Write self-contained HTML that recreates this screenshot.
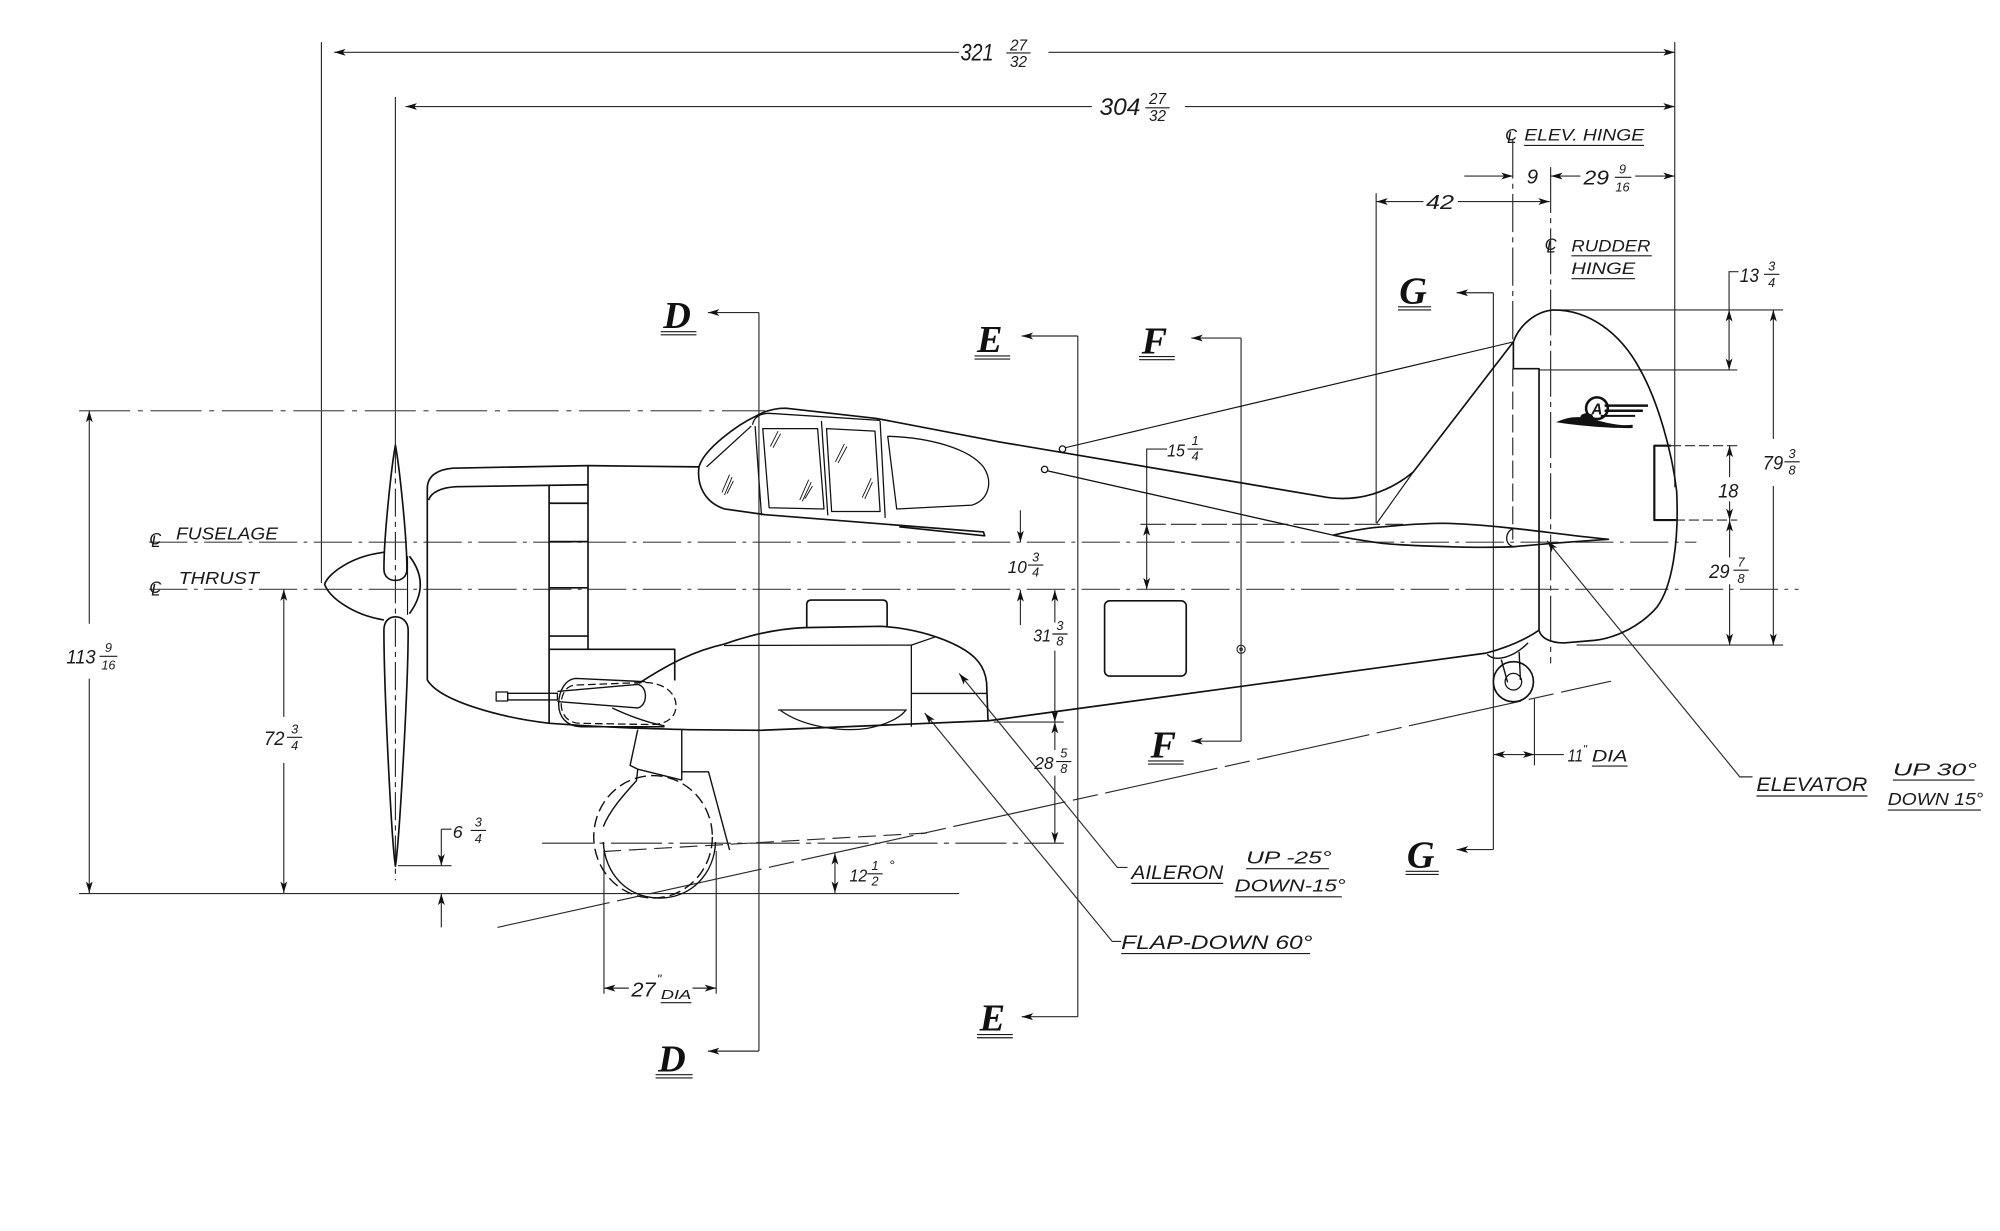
<!DOCTYPE html>
<html><head><meta charset="utf-8"><style>
html,body{margin:0;padding:0;background:#fff;}
svg{display:block;}
.t{font-family:"Liberation Sans",sans-serif;font-style:italic;fill:#1a1a1a;stroke:none;}
.L{font-family:"Liberation Serif",serif;font-weight:bold;font-style:italic;fill:#111;stroke:none;font-size:30px;}
</style></head><body>
<svg width="2000" height="1231" viewBox="0 0 1568 965" preserveAspectRatio="none" xmlns="http://www.w3.org/2000/svg">
<defs>
<marker id="a" viewBox="0 0 10 6" refX="10" refY="3" markerWidth="9" markerHeight="5.4" markerUnits="userSpaceOnUse" orient="auto-start-reverse"><path d="M0,0 L10,3 L0,6 L2.5,3 Z" fill="#111"/></marker>
</defs>
<rect width="1568" height="965" fill="#fff"/>

<!-- dimension / construction lines -->
<g stroke="#2a2a2a" fill="none" stroke-width="0.9">
<line x1="252" y1="33" x2="252" y2="457"/>
<line x1="310" y1="76" x2="310" y2="349"/>
<path d="M310,349 V690" stroke-dasharray="22 4 4 4"/>
<line x1="1313" y1="33" x2="1313" y2="382"/>
<line x1="262" y1="41" x2="752" y2="41" marker-start="url(#a)"/>
<line x1="822" y1="41" x2="1313" y2="41" marker-end="url(#a)"/>
<line x1="318" y1="83.5" x2="856" y2="83.5" marker-start="url(#a)"/>
<line x1="929" y1="83.5" x2="1313" y2="83.5" marker-end="url(#a)"/>

<path d="M1186,110 V268" stroke-dasharray="30 4 4 4"/>
<path d="M1186,289 V423" stroke-dasharray="14 4"/>
<path d="M1215.7,131 V520" stroke-dasharray="36 4 4 4"/>
<line x1="1078.9" y1="151.5" x2="1078.9" y2="410"/>
<line x1="1148" y1="138" x2="1186" y2="138" marker-end="url(#a)"/>
<line x1="1216" y1="138" x2="1239" y2="138" marker-start="url(#a)"/>
<line x1="1282" y1="138" x2="1313" y2="138" marker-end="url(#a)"/>
<line x1="1079" y1="158" x2="1116" y2="158" marker-start="url(#a)"/>
<line x1="1143" y1="158" x2="1215" y2="158" marker-end="url(#a)"/>

<line x1="1222" y1="243" x2="1398" y2="243"/>
<line x1="1207" y1="290" x2="1362" y2="290"/>
<line x1="1310" y1="349.4" x2="1362" y2="349.4" stroke-dasharray="8 3"/>
<line x1="1313" y1="407.7" x2="1362" y2="407.7" stroke-dasharray="8 3"/>
<line x1="1236" y1="505.7" x2="1398" y2="505.7"/>
<path d="M1363,213 H1355.6 V243"/>
<line x1="1355.6" y1="243" x2="1355.6" y2="290" marker-start="url(#a)" marker-end="url(#a)"/>
<line x1="1356" y1="349.4" x2="1356" y2="374" marker-start="url(#a)"/>
<line x1="1356" y1="393" x2="1356" y2="407.7" marker-end="url(#a)"/>
<line x1="1356" y1="407.7" x2="1356" y2="437" marker-start="url(#a)"/>
<line x1="1356" y1="458" x2="1356" y2="505.7" marker-end="url(#a)"/>
<line x1="1390.3" y1="243" x2="1390.3" y2="344" marker-start="url(#a)"/>
<line x1="1390.3" y1="381" x2="1390.3" y2="505.7" marker-end="url(#a)"/>

<path d="M117,425 H1330" stroke-dasharray="30 5 3 5" stroke="#444"/>
<path d="M117,462 H1410" stroke-dasharray="30 5 3 5" stroke="#444"/>
<path d="M894,411 H1100" stroke-dasharray="20 4"/>
<path d="M62,322 H600" stroke-dasharray="40 6 4 6" stroke="#555"/>
<line x1="62" y1="700.5" x2="752" y2="700.5"/>
<path d="M425,661 H834" stroke-dasharray="40 5 4 5"/>
<path d="M390,727 L1263,534" stroke-dasharray="90 6 20 6"/>
<path d="M473,667.5 L726.5,653" stroke-dasharray="14 6"/>

<line x1="70" y1="322" x2="70" y2="489" marker-start="url(#a)"/>
<line x1="70" y1="532" x2="70" y2="700" marker-end="url(#a)"/>
<line x1="222.5" y1="462" x2="222.5" y2="562" marker-start="url(#a)"/>
<line x1="222.5" y1="598" x2="222.5" y2="700" marker-end="url(#a)"/>
<path d="M312,678.6 H354"/>
<path d="M354,650 H346"/>
<line x1="346" y1="650" x2="346" y2="678.6" marker-end="url(#a)"/>
<line x1="346" y1="727" x2="346" y2="700.5" marker-end="url(#a)"/>
<line x1="800" y1="400" x2="800" y2="425" marker-end="url(#a)"/>
<line x1="800" y1="490" x2="800" y2="462.6" marker-end="url(#a)"/>
<line x1="827" y1="462.6" x2="827" y2="488" marker-start="url(#a)"/>
<line x1="827" y1="510" x2="827" y2="566" marker-end="url(#a)"/>
<line x1="827" y1="566" x2="827" y2="588" marker-start="url(#a)"/>
<line x1="827" y1="608" x2="827" y2="661" marker-end="url(#a)"/>
<line x1="779" y1="566" x2="834" y2="566"/>
<path d="M915,352 H899 V411"/>
<line x1="899" y1="411" x2="899" y2="462" marker-start="url(#a)" marker-end="url(#a)"/>
<line x1="654.6" y1="668.8" x2="654.6" y2="700" marker-start="url(#a)" marker-end="url(#a)"/>
<line x1="473.5" y1="667" x2="473.5" y2="779"/>
<line x1="561.5" y1="667" x2="561.5" y2="779"/>
<line x1="473.5" y1="774.6" x2="493" y2="774.6" marker-start="url(#a)"/>
<line x1="543" y1="774.6" x2="561.5" y2="774.6" marker-end="url(#a)"/>
<line x1="1203" y1="548" x2="1203" y2="600"/>
<line x1="1171" y1="591.5" x2="1203" y2="591.5" marker-start="url(#a)" marker-end="url(#a)"/>
<path d="M1203,591.5 H1226"/>

<!-- section lines -->
<path d="M595,245 V824"/>
<line x1="595" y1="245" x2="555" y2="245" marker-end="url(#a)"/>
<line x1="595" y1="824" x2="555" y2="824" marker-end="url(#a)"/>
<path d="M845,263.4 V797"/>
<line x1="845" y1="263.4" x2="801" y2="263.4" marker-end="url(#a)"/>
<line x1="845" y1="797" x2="801" y2="797" marker-end="url(#a)"/>
<path d="M973,265 V581"/>
<line x1="973" y1="265" x2="934" y2="265" marker-end="url(#a)"/>
<line x1="973" y1="581" x2="934" y2="581" marker-end="url(#a)"/>
<circle cx="973" cy="509" r="3.2"/><circle cx="973" cy="509" r="1"/>
<path d="M1170.8,229.5 V666"/>
<line x1="1170.8" y1="229.5" x2="1142" y2="229.5" marker-end="url(#a)"/>
<line x1="1170.8" y1="666" x2="1142" y2="666" marker-end="url(#a)"/>

<!-- leaders -->
<path d="M884,680 H876 L752,528" marker-end="url(#a)"/>
<path d="M879,738 H872 L725,559" marker-end="url(#a)"/>
<path d="M1374,609 H1364 L1213,424" marker-end="url(#a)"/>
</g>

<!-- aircraft outline -->
<g stroke="#111" fill="none" stroke-width="1.3" stroke-linejoin="round">
<path d="M310,349 C307,365 301,420 301,446 C301,452 305,455 310,455 C315,455 319,452 319,446 C319,420 313,365 310,349 Z"/>
<path d="M310,679 C307,660 301,540 301,494 C301,487 305,483.5 310,483.5 C315,483.5 320,487 320,494 C320,540 313,660 310,679 Z"/>
<path d="M301,433 C275,436 257,450 254.5,458 C258,468 276,482 301,486"/>
<path d="M319.5,436 V482" stroke-width="0.9"/>
<path d="M321,436 Q338,458 321,481"/>

<path d="M461,365 L355,367 C343,368 335,373 335,383 L335,533 C345,550 395,563 431,567 C470,570 500,571 540,572 L596,572.5 L775,565 L1165,512 C1180,508 1195,502 1206.6,494"/>
<path d="M336,392 C338,386 346,382 358,381.5 L461,380"/>
<path d="M430.5,381 V567 M461,365 V509 M430.5,394.5 H461 M430.5,424.6 H461 M430.5,460.8 H461 M430.5,498.6 H461 M430.5,509 H529 V533.5"/>
<path d="M461,365 L548,366"/>

<path d="M548,366 C552,352 578,333 593,326 C600,322 608,320 616,320 L687,328 L784,346.5 L1035,389 C1065,395 1090,385 1108,370 L1186.5,268"/>
<path d="M548,366 C546,381 553,394 568,399 L600,403.5 L771,417 L772,420 L705,413"/>
<path d="M554,366 L589,334" stroke-width="1"/>
<path d="M590,333 C591,327 596,324 603,324 L690,329.5" stroke-width="1"/>
<path d="M592,334 L597,404 M644,330 L649,404 M690,330 L694,406" stroke-width="1"/>
<path d="M598,336 L641,336 L646,399 L603,398 Z" stroke-width="1"/>
<path d="M648,336 L686,338 L690,401 L652,401 Z" stroke-width="1"/>
<path d="M696,342 C730,343 760,352 771,366 C779,378 775,392 762,396 L703,399 Z" stroke-width="1"/>
<g stroke-width="0.7">
<path d="M566,386 L572,372 M568,388 L574,374 M570,387 L575,377"/>
<path d="M604,350 L610,338 M606,351 L612,340"/>
<path d="M627,392 L634,376 M629,393 L636,378 M631,391 L637,381"/>
<path d="M655,362 L662,348 M657,363 L664,350"/>
<path d="M676,390 L683,375 M678,391 L684,378"/>
</g>

<circle cx="833" cy="352" r="2.5" stroke-width="1"/>
<circle cx="819" cy="368" r="2.5" stroke-width="1"/>
<path d="M835,351 L1186.5,268" stroke-width="0.9"/>
<path d="M821,369 L1045,419.5" stroke-width="1"/>
<path d="M1108,370 L1079.3,410.3" stroke-width="0.9"/>
<path d="M1045.3,419.5 C1060,416 1075,413.5 1084.5,413 C1105,411 1125,410 1136.8,410.3 C1155,411 1172,412.5 1186.5,414.2 C1205,416 1225,419 1261,422.8 C1235,424.5 1215,426 1186.5,428.6 C1165,429.5 1150,429 1136.8,428.6 C1115,428 1095,427 1084.5,426 C1070,424 1055,421.5 1045.3,419.5 Z"/>
<path d="M1186.5,414.5 C1180,416 1179,427 1186.5,428.5" stroke-width="1"/>
<path d="M1186.5,268 V289 H1206.6 V494"/>
<path d="M1186.5,268 C1191,255 1204,244 1218,243 C1245,243 1270,260 1286,290 C1300,315 1311,355 1314.5,385 C1316.5,425 1311,460 1299,476 C1287,490 1268,500 1250,502 L1226,504 C1215,504 1208,500 1206.6,494"/>
<path d="M1310,349.4 H1297 V407.7 H1314" stroke-width="1.7"/>

<path d="M1166,513 C1172,519 1186,516 1198,504" stroke-width="1.1"/>
<path d="M1177,517 L1182,535 M1191,511 L1192,533" stroke-width="1.1"/>
<circle cx="1186.5" cy="534.4" r="15.7"/>
<circle cx="1186.5" cy="534.4" r="6.5" stroke-width="1"/>

<path d="M632.5,491.5 V474 Q632.5,470.4 636,470.4 H692 Q695.5,470.4 695.5,474 V491.5"/>
<path d="M501,535.6 C525,520 545,510 567.6,505 C590,497 610,493 630,492 L690,491 C712,492 735,498 752,507 C765,514 772,522 773.5,535 L774.6,565"/>
<path d="M567.6,506 L714.5,505.7 L734,499 M714.5,505.7 V569.7 M714.5,543.6 H774" stroke-width="1"/>
<path d="M610,556.6 L711,556.6" stroke-width="1"/>
<path d="M612,557 C630,570 660,574 680,571 C695,568 705,563 710,557" stroke-width="1"/>

<path d="M521,569.7 L455,569.7 C444,569 438,562 438,552 C438,542 443,532 452,531.8 L506,534.4" stroke-width="1.1"/>
<path d="M452,537 L505,535 C520,535 530,543 530,553 C530,563 522,568 510,568 L455,567 C445,567 440,560 440,552 C440,544 444,537 452,537 Z" stroke-dasharray="6 3" stroke-width="1"/>
<path d="M437,542 L500,536.5 C508,538 508,553 500,555 L437,550" stroke-width="1.1"/>
<path d="M480,555 C495,562 510,567 521,569" stroke-width="1.1"/>
<rect x="398" y="543.5" width="39" height="5.2" stroke-width="1"/>
<rect x="389" y="542.5" width="9" height="7" stroke-width="1"/>

<path d="M500,572 L494,600 L500,603 M534.5,572 V611.5 M500,603 L534.5,611.5 M534.5,605 L555.5,605 L572,666.4 M500,603 L499,612 C490,622 478,635 473,648" stroke-width="1.1"/>
<ellipse cx="512" cy="656" rx="46.5" ry="48" stroke-dasharray="9 4" stroke-width="1.1"/>
<path d="M473,660 C474,685 492,704 517,704 C542,704 560,685 561,660" stroke-width="1.1"/>

<rect x="866" y="471" width="64" height="59" rx="4"/>
</g>

<!-- logo -->
<g stroke="#111" fill="none">
<circle cx="1252" cy="320" r="8.5" stroke-width="2"/>
<path d="M1258,318 H1292 M1258,322 H1288" stroke-width="2"/>
<path d="M1255,326 H1282" stroke-width="1.5"/>
</g>
<text class="t" x="1252" y="325" font-size="12" text-anchor="middle" font-weight="bold" font-style="normal">A</text>
<path d="M1220,331 C1230,326 1240,326 1250,329 C1262,332 1270,334 1280,333 L1280,335.5 C1265,336 1240,334 1220,331 Z" fill="#111"/>
<ellipse cx="1244" cy="327" rx="5" ry="3" fill="#111"/>

<!-- texts -->
<g class="t">
<text x="753" y="47.5" font-size="19" textLength="26" lengthAdjust="spacingAndGlyphs">321</text>
<text x="798.5" y="39.5" font-size="12" text-anchor="middle">27</text>
<text x="798.5" y="52.5" font-size="12" text-anchor="middle">32</text>
<text x="862" y="90" font-size="19" textLength="32" lengthAdjust="spacingAndGlyphs">304</text>
<text x="907.5" y="81.5" font-size="12" text-anchor="middle">27</text>
<text x="907.5" y="95" font-size="12" text-anchor="middle">32</text>

<text x="1197" y="144" font-size="16">9</text>
<text x="1241.5" y="144.5" font-size="16" textLength="20" lengthAdjust="spacingAndGlyphs">29</text>
<text x="1272" y="136" font-size="10" text-anchor="middle">9</text>
<text x="1272" y="150" font-size="10" text-anchor="middle">16</text>
<text x="1118" y="164" font-size="16" textLength="22" lengthAdjust="spacingAndGlyphs">42</text>

<text x="1180" y="110" font-size="13">C</text><text x="1181.5" y="112" font-size="13">L</text>
<text x="1195" y="110" font-size="13" textLength="94" lengthAdjust="spacingAndGlyphs">ELEV. HINGE</text>
<text x="1211" y="196" font-size="13">C</text><text x="1212.5" y="198" font-size="13">L</text>
<text x="1232" y="197" font-size="13" textLength="62" lengthAdjust="spacingAndGlyphs">RUDDER</text>
<text x="1232" y="215" font-size="13" textLength="50" lengthAdjust="spacingAndGlyphs">HINGE</text>

<text x="1364" y="221" font-size="15" textLength="15" lengthAdjust="spacingAndGlyphs">13</text>
<text x="1389" y="212" font-size="10" text-anchor="middle">3</text>
<text x="1389" y="225" font-size="10" text-anchor="middle">4</text>
<text x="1382" y="368" font-size="15" textLength="16" lengthAdjust="spacingAndGlyphs">79</text>
<text x="1405" y="359" font-size="10" text-anchor="middle">3</text>
<text x="1405" y="372" font-size="10" text-anchor="middle">8</text>
<text x="1347" y="390" font-size="15" textLength="16" lengthAdjust="spacingAndGlyphs">18</text>
<text x="1340" y="453" font-size="15" textLength="16" lengthAdjust="spacingAndGlyphs">29</text>
<text x="1365" y="444" font-size="10" text-anchor="middle">7</text>
<text x="1365" y="457" font-size="10" text-anchor="middle">8</text>

<text x="915" y="358" font-size="14" textLength="14" lengthAdjust="spacingAndGlyphs">15</text>
<text x="937" y="349" font-size="10" text-anchor="middle">1</text>
<text x="937" y="361" font-size="10" text-anchor="middle">4</text>
<text x="790" y="449" font-size="14" textLength="15" lengthAdjust="spacingAndGlyphs">10</text>
<text x="812" y="440" font-size="10" text-anchor="middle">3</text>
<text x="812" y="452" font-size="10" text-anchor="middle">4</text>
<text x="810" y="503" font-size="14" textLength="14" lengthAdjust="spacingAndGlyphs">31</text>
<text x="831" y="494" font-size="10" text-anchor="middle">3</text>
<text x="831" y="506" font-size="10" text-anchor="middle">8</text>
<text x="811" y="603" font-size="14" textLength="15" lengthAdjust="spacingAndGlyphs">28</text>
<text x="834" y="594" font-size="10" text-anchor="middle">5</text>
<text x="834" y="606" font-size="10" text-anchor="middle">8</text>
<text x="666" y="691" font-size="14" textLength="14" lengthAdjust="spacingAndGlyphs">12</text>
<text x="686" y="682" font-size="10" text-anchor="middle">1</text>
<text x="686" y="694" font-size="10" text-anchor="middle">2</text>
<text x="697" y="682" font-size="11">°</text>

<text x="52" y="520" font-size="15" textLength="23" lengthAdjust="spacingAndGlyphs">113</text>
<text x="85" y="511" font-size="10" text-anchor="middle">9</text>
<text x="85" y="525" font-size="10" text-anchor="middle">16</text>
<text x="207" y="584" font-size="15" textLength="16" lengthAdjust="spacingAndGlyphs">72</text>
<text x="231" y="575" font-size="10" text-anchor="middle">3</text>
<text x="231" y="588" font-size="10" text-anchor="middle">4</text>
<text x="355" y="657" font-size="14">6</text>
<text x="375" y="648" font-size="10" text-anchor="middle">3</text>
<text x="375" y="661" font-size="10" text-anchor="middle">4</text>

<text x="117" y="427" font-size="13">C</text><text x="118.5" y="429" font-size="13">L</text>
<text x="138" y="423" font-size="14" textLength="80" lengthAdjust="spacingAndGlyphs">FUSELAGE</text>
<text x="117" y="465" font-size="13">C</text><text x="118.5" y="467" font-size="13">L</text>
<text x="140" y="458" font-size="14" textLength="63" lengthAdjust="spacingAndGlyphs">THRUST</text>

<text x="495" y="781" font-size="16" textLength="19" lengthAdjust="spacingAndGlyphs">27</text>
<text x="515" y="771" font-size="10">"</text>
<text x="518" y="783" font-size="10" textLength="24" lengthAdjust="spacingAndGlyphs">DIA</text>
<text x="1229" y="597" font-size="14" textLength="12" lengthAdjust="spacingAndGlyphs">11</text>
<text x="1241" y="590" font-size="9">"</text>
<text x="1248" y="597" font-size="13" textLength="28" lengthAdjust="spacingAndGlyphs">DIA</text>

<text x="887" y="689" font-size="15" textLength="72" lengthAdjust="spacingAndGlyphs">AILERON</text>
<text x="977" y="677" font-size="14" textLength="67" lengthAdjust="spacingAndGlyphs">UP -25°</text>
<text x="968" y="699" font-size="14" textLength="87" lengthAdjust="spacingAndGlyphs">DOWN-15°</text>
<text x="879" y="744" font-size="15" textLength="150" lengthAdjust="spacingAndGlyphs">FLAP-DOWN 60°</text>
<text x="1377" y="620" font-size="15" textLength="87" lengthAdjust="spacingAndGlyphs">ELEVATOR</text>
<text x="1484" y="608" font-size="14" textLength="66" lengthAdjust="spacingAndGlyphs">UP 30°</text>
<text x="1480" y="631" font-size="14" textLength="75" lengthAdjust="spacingAndGlyphs">DOWN 15°</text>
</g>

<!-- fraction bars and underlines -->
<g stroke="#1a1a1a" stroke-width="0.9" fill="none">
<path d="M789,41.5 H808 M898,84.5 H917 M1266,139 H1279 M1383,215 H1395 M1399,362 H1411 M1359,447 H1371 M931,352 H943 M806,443 H818 M825,497 H837 M828,597 H840 M680,685 H692 M78,514.5 H92 M225,578 H237 M369,651 H381"/>
<path d="M1195,114 H1289 M1232,200.5 H1295 M1232,218.5 H1282 M518,786 H542 M1248,600.5 H1276"/>
<path d="M887,692.5 H959 M977,681 H1042 M968,703 H1052 M879,747.5 H1027 M1377,624 H1464 M1484,611.5 H1548 M1480,635 H1553"/>
<path d="M518,260 H546 M518,262.5 H546 M514,842.5 H543 M514,845 H543 M764,279 H792 M764,281.5 H792 M766,811 H794 M766,813.5 H794 M893,279.5 H921 M893,282 H921 M900,596.5 H928 M900,599 H928 M1096,240.5 H1122 M1096,243 H1122 M1102,683 H1128 M1102,685.5 H1128"/>
</g>

<!-- section letters -->
<text class="L" x="520" y="257">D</text>
<text class="L" x="516" y="840">D</text>
<text class="L" x="766" y="276">E</text>
<text class="L" x="768" y="808">E</text>
<text class="L" x="895" y="277">F</text>
<text class="L" x="902" y="594">F</text>
<text class="L" x="1097" y="238">G</text>
<text class="L" x="1103" y="680">G</text>
</svg>
</body></html>
